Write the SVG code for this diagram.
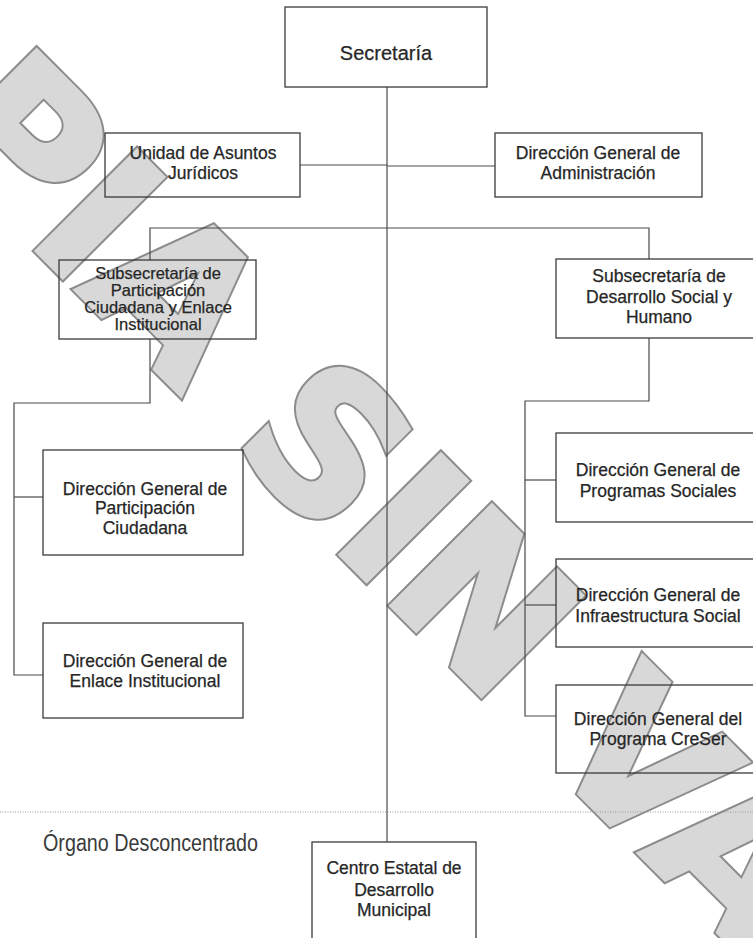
<svg xmlns="http://www.w3.org/2000/svg" width="753" height="938" viewBox="0 0 753 938">
<style>
  .box { fill: none; stroke: #3a3a3a; stroke-width: 1.3; }
  .lbl { font-family: "Liberation Sans", Arial, sans-serif; font-size: 17.5px; fill: #262626; text-anchor: middle; stroke: #262626; stroke-width: 0.25; }
  .tight { font-size: 16.5px; }
  .conn line, .conn path { stroke: #4a4a4a; stroke-width: 1.2; fill: none; }
  .wm { font-family: "DejaVu Sans", "Liberation Sans", sans-serif; font-weight: bold; font-size: 194px; stroke-linejoin: miter; }
</style>
<rect width="753" height="938" fill="#ffffff"/>

<g id="watermark" transform="translate(-76,138) rotate(45)">
  <text class="wm" x="0" y="0" fill="#8c8c8c" stroke="#8c8c8c" stroke-width="8.5" xml:space="preserve">PIA SIN VA</text>
  <text class="wm" x="0" y="0" fill="#d8d8d8" stroke="#d8d8d8" stroke-width="4.5" xml:space="preserve">PIA SIN VA</text>
</g>

<g id="connectors" class="conn">
  <line x1="387" y1="87" x2="387" y2="842"/>
  <line x1="300" y1="165" x2="387" y2="165"/>
  <line x1="387" y1="166" x2="495" y2="166"/>
  <path d="M150,260 V228 H649 V259"/>
  <path d="M150,339 V403 H14 V675 H43"/>
  <line x1="14" y1="497" x2="43" y2="497"/>
  <path d="M649,338 V401 H525 V716 H556"/>
  <line x1="525" y1="480" x2="556" y2="480"/>
  <line x1="525" y1="605" x2="556" y2="605"/>
</g>

<line id="separator" x1="0" y1="812" x2="753" y2="812" stroke="#9a9a9a" stroke-width="1" stroke-dasharray="1 1.5"/>
<text id="organo-label" x="43" y="851" font-family="'Liberation Sans', Arial, sans-serif" font-size="23" fill="#3a3a3a" textLength="215" lengthAdjust="spacingAndGlyphs">Órgano Desconcentrado</text>

<g id="secretaria">
  <rect class="box" x="285" y="7" width="202" height="80"/>
  <text class="lbl" x="386" y="60" style="font-size:20px">Secretaría</text>
</g>

<g id="unidad-juridicos">
  <rect class="box" x="105" y="133" width="195" height="64"/>
  <text class="lbl" x="203" y="159">Unidad de Asuntos</text>
  <text class="lbl" x="203" y="179">Jurídicos</text>
</g>

<g id="dg-administracion">
  <rect class="box" x="495" y="133" width="207" height="64"/>
  <text class="lbl" x="598" y="159">Dirección General de</text>
  <text class="lbl" x="598" y="179">Administración</text>
</g>

<g id="sub-participacion">
  <rect class="box" x="59" y="260" width="197" height="79"/>
  <text class="lbl tight" x="158" y="279">Subsecretaría de</text>
  <text class="lbl tight" x="158" y="296">Participación</text>
  <text class="lbl tight" x="158" y="313">Ciudadana y Enlace</text>
  <text class="lbl tight" x="158" y="330">Institucional</text>
</g>

<g id="sub-desarrollo">
  <rect class="box" x="556" y="259" width="210" height="79"/>
  <text class="lbl" x="659" y="282">Subsecretaría de</text>
  <text class="lbl" x="659" y="303">Desarrollo Social y</text>
  <text class="lbl" x="659" y="323">Humano</text>
</g>

<g id="dg-participacion">
  <rect class="box" x="43" y="450" width="200" height="105"/>
  <text class="lbl" x="145" y="495">Dirección General de</text>
  <text class="lbl" x="145" y="514">Participación</text>
  <text class="lbl" x="145" y="534">Ciudadana</text>
</g>

<g id="dg-enlace">
  <rect class="box" x="43" y="623" width="200" height="95"/>
  <text class="lbl" x="145" y="667">Dirección General de</text>
  <text class="lbl" x="145" y="687">Enlace Institucional</text>
</g>

<g id="dg-programas-sociales">
  <rect class="box" x="556" y="433" width="210" height="89"/>
  <text class="lbl" x="658" y="476">Dirección General de</text>
  <text class="lbl" x="658" y="497">Programas Sociales</text>
</g>

<g id="dg-infraestructura">
  <rect class="box" x="556" y="559" width="210" height="88"/>
  <text class="lbl" x="658" y="601">Dirección General de</text>
  <text class="lbl" x="658" y="622">Infraestructura Social</text>
</g>

<g id="dg-creser">
  <rect class="box" x="556" y="685" width="210" height="88"/>
  <text class="lbl" x="658" y="725">Dirección General del</text>
  <text class="lbl" x="658" y="745">Programa CreSer</text>
</g>

<g id="centro-estatal">
  <rect class="box" x="312" y="842" width="164" height="110"/>
  <text class="lbl" x="394" y="874">Centro Estatal de</text>
  <text class="lbl" x="394" y="896">Desarrollo</text>
  <text class="lbl" x="394" y="916">Municipal</text>
</g>
</svg>
